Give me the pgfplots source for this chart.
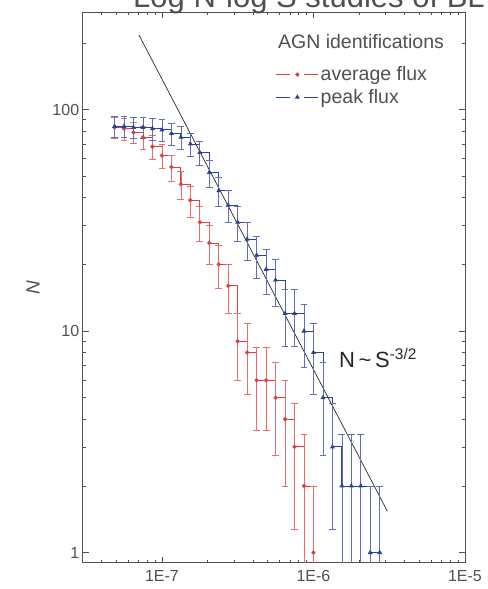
\documentclass[border=0pt]{standalone}
\usepackage{fontspec}
\setmainfont{Liberation Sans}
\usepackage{pgfplots}
\pgfplotsset{compat=1.18}
\usepackage{pgfplotstable}

\definecolor{avgred}{RGB}{222,62,62}
\definecolor{peakblue}{RGB}{44,66,146}
\definecolor{axisgray}{RGB}{80,80,80}

% cumulative counts N(>S) for peak flux, with Poisson errors
\pgfplotstableread{
S        N   ep    em
4.870e-8 84  9.17  9.17
5.623e-8 84  9.17  9.17
6.494e-8 83  9.11  9.11
7.499e-8 83  9.11  9.11
8.660e-8 82  9.06  9.06
1.000e-7 81  9.00  9.00
1.155e-7 78  8.83  8.83
1.334e-7 75  8.66  8.66
1.540e-7 70  8.37  8.37
1.778e-7 64  8.00  8.00
2.054e-7 52  7.21  7.21
2.371e-7 43  6.56  6.56
2.738e-7 37  6.08  6.08
3.162e-7 31  5.57  5.57
3.652e-7 26  5.10  5.10
4.217e-7 22  4.69  4.69
4.870e-7 19  4.36  4.36
5.623e-7 17  4.12  4.12
6.494e-7 12  3.46  3.46
7.499e-7 12  3.46  3.46
8.660e-7 10  3.16  3.16
1.000e-6 8   2.83  2.83
1.155e-6 5   2.24  2.24
1.334e-6 3   1.73  1.73
1.540e-6 2   1.41  1.41
1.778e-6 2   1.41  1.41
2.054e-6 2   1.41  1.41
2.371e-6 1   1.00  0.99
2.738e-6 1   1.00  0.99
}\peakflux

% cumulative counts N(>S) for average flux
\pgfplotstableread{
S        N   ep    em
4.870e-8 83  9.11  9.11
5.623e-8 82  9.06  9.06
6.494e-8 79  8.89  8.89
7.499e-8 75  8.66  8.66
8.660e-8 68  8.25  8.25
1.000e-7 62  7.87  7.87
1.155e-7 55  7.42  7.42
1.334e-7 46  6.78  6.78
1.540e-7 39  6.24  6.24
1.778e-7 31  5.57  5.57
2.054e-7 25  5.00  5.00
2.371e-7 20  4.47  4.47
2.738e-7 16  4.00  4.00
3.162e-7 9   3.00  3.00
3.652e-7 8   2.83  2.83
4.217e-7 6   2.45  2.45
4.870e-7 6   2.45  2.45
5.623e-7 5   2.24  2.24
6.494e-7 4   2.00  2.00
7.499e-7 3   1.73  1.73
8.660e-7 2   1.41  1.41
1.000e-6 1   1.00  0.99
}\avgflux

\begin{document}
\begin{tikzpicture}
\begin{axis}[
  name=ax,
  scale only axis,
  width=382.3bp, height=550.4bp,
  xmode=log, ymode=log,
  xmin=3e-8, xmax=1e-5,
  ymin=0.9, ymax=275,
  xtick={1e-7,1e-6,1e-5},
  xticklabels={1E-7,1E-6,1E-5},
  minor xtick={4e-8,5e-8,6e-8,7e-8,8e-8,9e-8,
               2e-7,3e-7,4e-7,5e-7,6e-7,7e-7,8e-7,9e-7,
               2e-6,3e-6,4e-6,5e-6,6e-6,7e-6,8e-6,9e-6},
  ytick={1,10,100},
  yticklabels={1,10,100},
  minor ytick={2,3,4,5,6,7,8,9,20,30,40,50,60,70,80,90,200},
  tick align=inside,
  major tick length=6bp,
  minor tick length=3bp,
  axis line style={axisgray, line width=0.9pt},
  every tick/.style={axisgray, line width=0.7pt},
  tick label style={font=\fontsize{16bp}{19bp}\selectfont, text=axisgray},
  /pgf/number format/assume math mode=true,
  ylabel={\itshape N},
  ylabel style={font=\fontsize{19bp}{22bp}\selectfont, text=axisgray},
  ylabel shift=6bp,
  xticklabel style={yshift=-4bp},
  legend style={draw=none, fill=none, at={(rel axis cs:0.505,0.905)}, anchor=north west,
    font=\fontsize{19.5bp}{24bp}\selectfont, text=axisgray,
    row sep=3bp, inner sep=0pt},
  legend cell align=left,
  legend image code/.code={
    \draw[#1, mark=none] (0bp,0bp) -- (14bp,0bp);
    \draw[#1, mark=none] (28bp,0bp) -- (42bp,0bp);
    \draw[#1] plot[only marks] coordinates {(21bp,0bp)};
  },
]
% power-law guide line
\addplot[black!85, line width=0.7pt, forget plot] coordinates {(7.06e-8,217) (3.07e-6,1.54)};

\addplot[const plot, avgred, line width=0.8pt, mark=*, mark size=1.7bp,
  mark options={solid, fill=avgred},
  error bars/.cd, y dir=both, y explicit,
  error bar style={avgred!75, line width=0.7pt},
  error mark options={rotate=90, mark size=3.4bp, avgred!75, line width=0.7pt}]
  table[x=S, y=N, y error plus=ep, y error minus=em] {\avgflux};
\addlegendentry{average flux}

\addplot[const plot, peakblue, line width=0.8pt, mark=triangle*, mark size=2.1bp,
  mark options={solid, fill=peakblue},
  error bars/.cd, y dir=both, y explicit,
  error bar style={peakblue!75, line width=0.7pt},
  error mark options={rotate=90, mark size=3.4bp, peakblue!75, line width=0.7pt}]
  table[x=S, y=N, y error plus=ep, y error minus=em] {\peakflux};
\addlegendentry{peak flux}

\node[anchor=base west, font=\fontsize{19.5bp}{24bp}\selectfont, text=axisgray]
  at (rel axis cs:0.502,0.935) {AGN identifications};
\node[anchor=west, font=\fontsize{22bp}{26bp}\selectfont, text=black!85]
  at (axis cs:1.4e-6,7.55) {N\,\textasciitilde\,S\textsuperscript{-3/2}};
\end{axis}
\node[anchor=base west, font=\fontsize{31bp}{36bp}\selectfont, text=axisgray]
  at ([xshift=47bp, yshift=5bp]ax.north west) {Log N-log S studies of BL Lacs};
\pgfresetboundingbox
\path[use as bounding box] ([shift={(-82.7bp,-26.3bp)}]ax.south west)
  rectangle ([shift={(22bp,12.3bp)}]ax.north east);
\end{tikzpicture}
\end{document}
